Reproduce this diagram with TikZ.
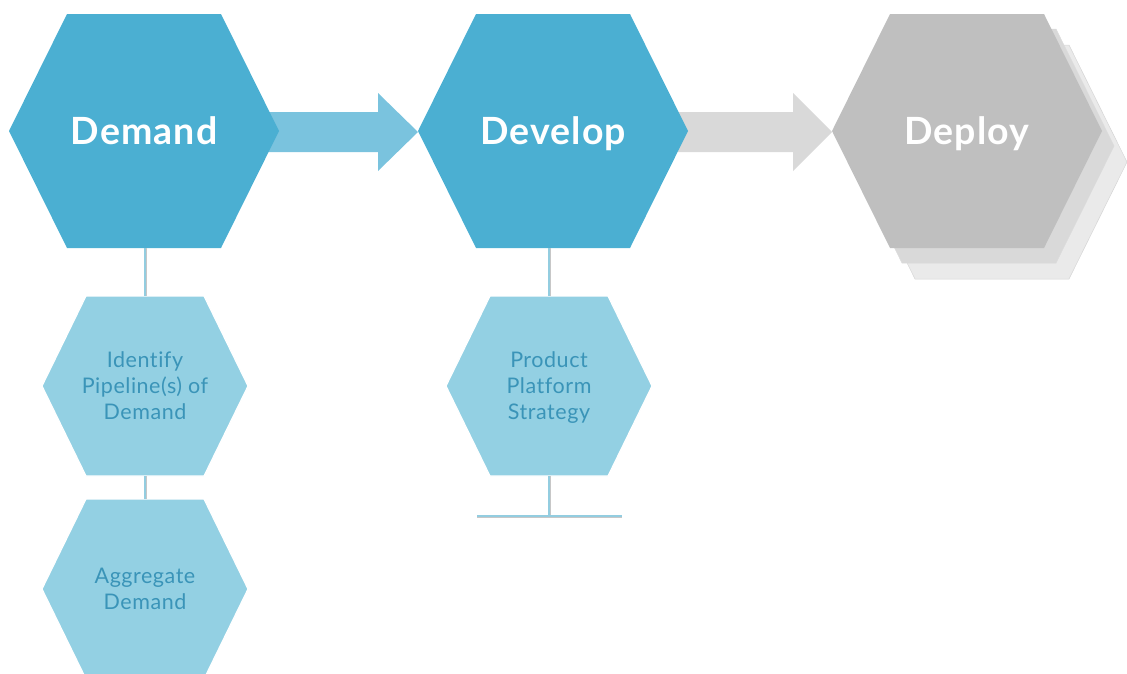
\documentclass[tikz,border=0pt]{standalone}
\usepackage{fontspec}
\setmainfont{Lato}
\newfontfamily\bigfont[LetterSpace=3,Ligatures=NoCommon]{Lato}
\newfontfamily\smallfont[LetterSpace=2.5,Ligatures=NoCommon]{Lato}
\definecolor{hexblue}{RGB}{75,175,210}
\definecolor{arrowblue}{RGB}{122,195,222}
\definecolor{lightblue}{RGB}{147,208,227}
\definecolor{txtblue}{RGB}{58,148,184}
\definecolor{linkblue}{RGB}{147,205,224}
\definecolor{deploygray}{RGB}{191,191,191}
\definecolor{shadowA}{RGB}{217,217,217}
\definecolor{shadowB}{RGB}{234,234,234}
\definecolor{arrowgray}{RGB}{217,217,217}
\newcommand\nodepth[1]{\raisebox{0pt}[\height][0pt]{#1}}
\tikzset{
  bighex/.pic={\path[pic actions] (-135,0) -- (-77,-117) -- (77,-117) -- (135,0) -- (77,117) -- (-77,117) -- cycle;},
  smallhex/.pic={\path[pic actions] (-103,0) -- (-59,-90) -- (59,-90) -- (103,0) -- (59,90) -- (-59,90) -- cycle;},
  bigtext/.style={minimum width=270pt, minimum height=234pt, inner sep=0pt, text depth=0pt, text=white, font=\bigfont\fontsize{37.5}{40}\selectfont\bfseries},
  smalltext/.style={minimum width=206pt, minimum height=180pt, inner sep=0pt, text=txtblue, align=center, font=\smallfont\fontsize{21.5}{26}\selectfont},
  conn/.style={draw=black!22, line width=3pt},
  conninner/.style={draw=linkblue, line width=2pt},
}
\begin{document}
\begin{tikzpicture}[x=1pt,y=-1pt]
\useasboundingbox (0,0) rectangle (1127,673);
% block arrows
\fill[arrowblue] (268,112) -- (378,112) -- (378,93) -- (418,132) -- (378,171) -- (378,152) -- (268,152) -- cycle;
\fill[arrowgray] (678,112) -- (793,112) -- (793,93) -- (832,132) -- (793,171) -- (793,152) -- (678,152) -- cycle;
% big hexagons
\pic[fill=hexblue] at (144,131) {bighex};
\pic[fill=hexblue] at (553,131) {bighex};
\pic[fill=shadowB, draw=black!16, line width=0.5pt] at (992,162) {bighex};
\pic[fill=shadowA, draw=black!14, line width=0.5pt] at (979,146) {bighex};
\pic[fill=deploygray] at (967,131) {bighex};
\node[bigtext] (demand) at (144,131) {Demand};
\node[bigtext] (develop) at (553,131) {Develop};
\node[bigtext] (deploy) at (967,131) {Deploy};
% small hexagons
\pic[fill=lightblue, draw=white, line width=1.2pt] at (145,386) {smallhex};
\pic[fill=lightblue, draw=white, line width=1.2pt] at (145,589) {smallhex};
\pic[fill=lightblue, draw=white, line width=1.2pt] at (549,386) {smallhex};
\node[smalltext] (identify) at (145,386) {Identify\\Pipeline(s) of\\Demand};
\node[smalltext] (aggregate) at (145,589) {Aggregate\\Demand};
\node[smalltext] (product) at (549,386) {Product\\Platform\\\nodepth{Strategy}};
% connectors
\coordinate (dtop) at (145,248);
\coordinate (vtop) at (549,248);
\coordinate (tm) at (549,516);
\coordinate (tl) at (477,516);
\coordinate (tr) at (622,516);
\foreach \s in {conn,conninner}{
  \draw[\s] (dtop) -- (identify.north);
  \draw[\s] (identify.south) -- (aggregate.north);
  \draw[\s] (vtop) -- (product.north);
  \draw[\s] (product.south) -- (tm);
  \draw[\s] (tl) -- (tr);
}
\end{tikzpicture}
\end{document}
